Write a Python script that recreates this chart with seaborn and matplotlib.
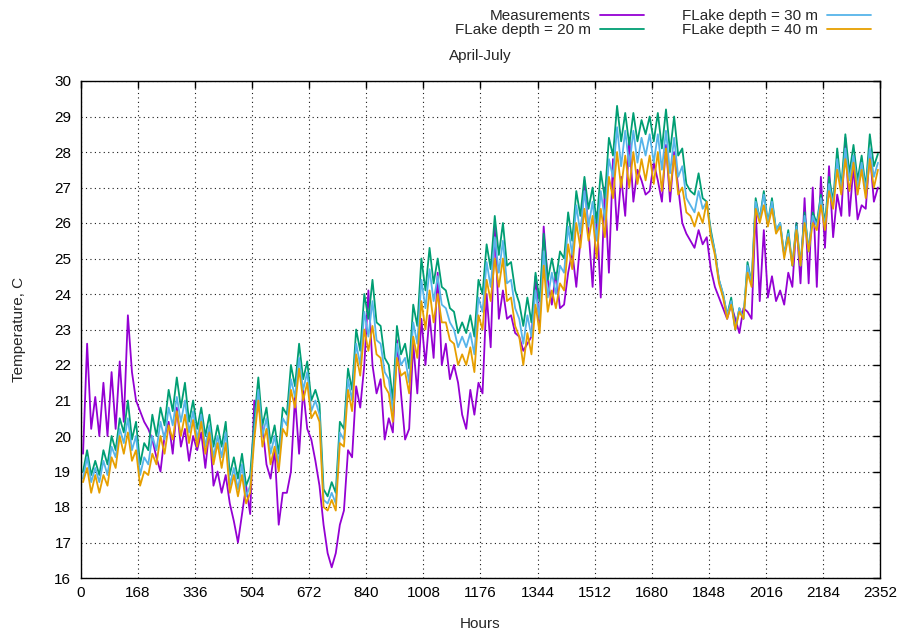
import numpy as np
import pandas as pd
import matplotlib
matplotlib.use("Agg")
import matplotlib.pyplot as plt
import seaborn as sns

# ---------------- data (12-hourly readings, first sample at hour 6) ----------------
labels = ["Measurements", "FLake depth = 20 m", "FLake depth = 30 m", "FLake depth = 40 m"]
colors = ["#9400D3", "#009E73", "#56B4E9", "#E69F00"]
x_ticks = [0, 168, 336, 504, 672, 840, 1008, 1176, 1344, 1512, 1680, 1848, 2016, 2184, 2352]
y_ticks = list(range(16, 31))
title = "April-July"

measurements = [
    19.5, 22.6, 20.2, 21.1, 20.0, 21.5, 20.0, 21.8, 20.2, 22.1, 20.4, 23.4, 21.8, 21.0,
    20.7, 20.4, 20.2, 19.9, 19.4, 19.0, 20.0, 20.4, 19.5, 20.8, 19.7, 20.2, 19.3, 20.0,
    19.6, 20.1, 19.1, 20.2, 18.6, 19.0, 18.4, 18.9, 18.1, 17.6, 17.0, 17.8, 18.6, 17.8,
    21.0, 20.85, 20.3, 19.2, 18.8, 19.6, 17.5, 18.4, 18.4, 19.0, 21.1, 19.5, 21.3, 20.2,
    19.9, 19.3, 18.6, 17.5, 16.7, 16.3, 16.7, 17.5, 17.9, 19.6, 19.4, 21.4, 20.8, 22.0,
    24.1, 22.0, 21.2, 21.6, 19.9, 20.5, 20.1, 22.7, 21.2, 19.9, 20.2, 22.6, 21.2, 23.3,
    22.0, 23.4, 22.2, 24.6, 22.0, 22.6, 21.6, 22.0, 21.5, 20.6, 20.2, 21.3, 20.6, 21.5,
    21.2, 24.0, 22.5, 25.9, 23.3, 24.1, 23.3, 23.4, 22.9, 22.8, 22.4, 22.6, 22.8, 24.5,
    23.1, 25.9, 24.4, 23.7, 24.6, 23.6, 23.7, 24.6, 25.2, 24.2, 25.5, 27.2, 25.8, 24.2,
    26.3, 23.9, 27.0, 24.6, 27.8, 25.8, 27.3, 26.2, 28.4, 26.6, 27.5, 27.2, 26.8, 26.9,
    27.7, 27.2, 26.6, 28.2, 26.6, 28.0, 27.0, 26.0, 25.7, 25.5, 25.3, 25.8, 25.4, 25.6,
    24.7, 24.2, 23.9, 23.6, 23.3, 23.7, 23.3, 22.9, 23.6, 23.5, 23.3, 26.4, 23.8, 25.8,
    23.9, 24.5, 23.8, 24.1, 23.7, 24.6, 24.2, 26.0, 24.3, 26.7, 24.3, 27.0, 24.2, 27.3,
    25.3, 27.6, 25.6, 26.8, 26.2, 28.4, 26.2, 27.6, 26.1, 26.5, 26.4, 28.0, 26.6, 27.0,
]

flake_20 = [
    19.0, 19.6, 18.9, 19.3, 18.9, 19.6, 19.2, 20.0, 19.6, 20.5, 20.1, 21.0, 19.9, 20.4,
    19.2, 19.8, 19.6, 20.6, 20.0, 20.8, 20.3, 21.3, 20.7, 21.65, 20.8, 21.5, 20.4, 21.0,
    20.2, 20.8, 20.0, 20.6, 19.7, 20.3, 19.7, 20.4, 18.9, 19.4, 18.8, 19.5, 18.6, 18.9,
    20.4, 21.65, 20.3, 20.8, 19.8, 20.3, 19.5, 20.8, 20.6, 22.0, 21.4, 22.6, 21.6, 22.1,
    21.0, 21.3, 20.9, 18.5, 18.3, 18.7, 18.4, 20.4, 20.2, 21.9, 21.3, 23.0, 22.4, 24.0,
    23.3, 24.4, 23.2, 23.1, 22.2, 22.0, 21.0, 23.1, 22.3, 22.6, 21.9, 23.7, 23.1, 25.0,
    24.1, 25.3, 24.3, 25.0, 24.2, 24.1, 23.6, 23.5, 22.9, 23.2, 22.9, 23.4, 22.8, 24.4,
    24.0, 25.4, 24.7, 26.2, 25.1, 26.0, 24.8, 24.9, 24.1, 23.75, 23.1, 23.9, 23.2, 24.6,
    23.8, 25.7, 24.4, 25.0, 24.4, 25.2, 25.0, 26.3, 25.5, 26.9, 26.2, 27.3, 26.4, 27.0,
    26.0, 27.45, 26.7, 28.4, 27.9, 29.3, 28.3, 29.1, 28.2, 29.1, 28.3, 28.9, 28.5, 29.0,
    28.3, 29.1, 28.1, 29.2, 28.0, 29.0, 27.9, 28.1, 27.1, 26.9, 26.8, 27.4, 26.7, 26.6,
    25.8, 25.2, 24.4, 24.0, 23.4, 23.9, 23.0, 23.6, 23.3, 24.9, 24.3, 26.7, 26.1, 26.9,
    26.0, 26.7, 25.8, 26.0, 25.1, 25.8, 24.8, 26.0, 24.8, 26.3, 25.2, 26.3, 26.0, 26.8,
    26.0, 27.3, 26.6, 28.1, 27.0, 28.5, 27.4, 28.2, 27.2, 27.9, 27.0, 28.5, 27.6, 27.95,
]

flake_30 = [
    18.8, 19.4, 18.7, 19.1, 18.7, 19.3, 18.9, 19.7, 19.4, 20.2, 19.8, 20.5, 19.6, 20.0,
    18.9, 19.4, 19.2, 20.0, 19.6, 20.4, 19.9, 20.8, 20.3, 21.1, 20.4, 21.0, 20.1, 20.7,
    19.9, 20.6, 19.7, 20.3, 19.4, 20.0, 19.4, 20.1, 18.6, 19.1, 18.5, 19.2, 18.3, 18.6,
    20.1, 21.3, 20.0, 20.5, 19.5, 20.0, 19.2, 20.5, 20.3, 21.6, 21.1, 22.2, 21.3, 21.8,
    20.7, 21.0, 20.6, 18.2, 18.1, 18.4, 18.1, 20.1, 19.9, 21.6, 21.0, 22.6, 22.0, 23.5,
    22.8, 23.8, 22.7, 22.6, 21.8, 21.6, 20.7, 22.6, 22.0, 22.2, 21.5, 23.2, 22.6, 24.4,
    23.6, 24.7, 23.8, 24.5, 23.7, 23.6, 23.2, 23.0, 22.5, 22.8, 22.5, 22.9, 22.3, 23.9,
    23.5, 24.9, 24.2, 25.6, 24.6, 25.5, 24.3, 24.4, 23.6, 23.3, 22.6, 23.4, 22.8, 24.1,
    23.3, 25.2, 23.9, 24.6, 24.0, 24.8, 24.6, 25.9, 25.1, 26.5, 25.7, 26.9, 25.9, 26.6,
    25.5, 26.9, 26.1, 27.8, 27.3, 28.7, 27.6, 28.6, 27.6, 28.6, 27.7, 28.4, 27.9, 28.5,
    27.7, 28.5, 27.5, 28.6, 27.4, 28.4, 27.3, 27.6, 26.7, 26.5, 26.3, 26.9, 26.4, 26.6,
    25.7, 25.2, 24.4, 24.0, 23.4, 23.8, 23.0, 23.6, 23.3, 24.8, 24.3, 26.6, 26.1, 26.8,
    26.0, 26.6, 25.8, 26.0, 25.1, 25.7, 24.8, 25.9, 24.8, 26.2, 25.2, 26.2, 25.9, 26.7,
    25.9, 27.1, 26.5, 27.8, 26.9, 28.1, 27.2, 27.9, 27.0, 27.7, 26.9, 28.1, 27.3, 27.7,
]

flake_40 = [
    18.7, 19.1, 18.4, 18.9, 18.4, 18.9, 18.6, 19.4, 19.1, 20.0, 19.5, 20.1, 19.3, 19.6,
    18.6, 19.0, 18.9, 19.5, 19.2, 20.0, 19.5, 20.3, 19.9, 20.7, 20.0, 20.6, 19.8, 20.45,
    19.7, 20.4, 19.5, 20.1, 19.2, 19.8, 19.1, 19.8, 18.4, 18.9, 18.3, 18.9, 18.1, 18.4,
    19.9, 21.0, 19.7, 20.2, 19.2, 19.7, 19.0, 20.2, 20.0, 21.3, 20.8, 21.9, 21.0, 21.5,
    20.5, 20.7, 20.4, 18.0, 17.9, 18.2, 17.9, 19.8, 19.7, 21.3, 20.7, 22.3, 21.7, 23.0,
    22.4, 23.1, 22.3, 22.2, 21.4, 21.2, 20.4, 22.2, 21.7, 21.8, 21.2, 22.8, 22.2, 23.8,
    23.0, 24.1, 23.2, 24.0, 23.2, 23.2, 22.7, 22.6, 22.0, 22.3, 22.0, 22.5, 21.8, 23.4,
    23.0, 24.4, 23.8, 25.0, 24.2, 25.0, 23.8, 23.9, 23.1, 22.8, 22.0, 22.9, 22.3, 23.7,
    22.9, 24.8, 23.5, 24.1, 23.6, 24.3, 24.1, 25.4, 24.7, 26.0, 25.3, 26.4, 25.5, 26.2,
    25.0, 26.4, 25.6, 27.3, 26.7, 28.0, 27.0, 27.9, 27.0, 28.0, 27.1, 27.8, 27.2, 27.9,
    27.1, 28.0, 26.9, 28.1, 26.9, 27.9, 26.8, 27.0, 26.3, 26.2, 25.9, 26.3, 26.0, 26.6,
    25.6, 25.1, 24.3, 23.9, 23.3, 23.7, 23.0, 23.5, 23.3, 24.6, 24.2, 26.4, 26.0, 26.5,
    25.9, 26.4, 25.7, 25.9, 25.0, 25.6, 24.8, 25.8, 24.8, 26.0, 25.2, 26.0, 25.8, 26.5,
    25.8, 26.9, 26.4, 27.5, 26.8, 27.8, 26.9, 27.7, 26.8, 27.5, 26.7, 27.8, 27.0, 27.5,
]

series = [measurements, flake_20, flake_30, flake_40]

# ---------------- long-form table ----------------
frames = []
for lab, vals in zip(labels, series):
    hrs = 6 + 12 * np.arange(len(vals))
    frames.append(pd.DataFrame({"Hours": hrs, "Temperature": vals, "series": lab}))
df = pd.concat(frames, ignore_index=True)

# ---------------- style ----------------
sns.set_style("white")
plt.rcParams["font.family"] = ["Liberation Sans", "DejaVu Sans"]
plt.rcParams["font.size"] = 11

fig = plt.figure(figsize=(9.04, 6.30), dpi=100)
ax = fig.add_axes([81 / 904, 1 - 578 / 630, (880 - 81) / 904, (578 - 81) / 630])

sns.lineplot(data=df, x="Hours", y="Temperature", hue="series", hue_order=labels,
             palette=dict(zip(labels, colors)), estimator=None, sort=False,
             linewidth=1.3, ax=ax, legend=True)

handles, labs = ax.get_legend_handles_labels()
ax.get_legend().remove()
fig.legend(handles, labs, ncol=2, markerfirst=False, frameon=False,
           loc="upper right", bbox_to_anchor=(874 / 904, 1 - 6 / 630),
           fontsize=11, handlelength=2.88, handletextpad=0.59,
           columnspacing=2.49, labelspacing=0.0, borderaxespad=0, borderpad=0.2)

ax.set_xlim(0, 2352)
ax.set_ylim(16, 30)
ax.set_xticks(x_ticks)
ax.set_yticks(y_ticks)
ax.tick_params(direction="in", length=5, width=1, top=True, right=True,
               labelsize=11, colors="black", pad=7)
ax.tick_params(axis="x", pad=6)
for s in ax.spines.values():
    s.set_visible(True)
    s.set_color("black")
    s.set_linewidth(1.0)
ax.grid(True, linestyle=(0, (1, 3)), color="black", linewidth=0.8, alpha=0.9)
ax.set_axisbelow(True)

ax.set_xlabel("Hours", fontsize=11, labelpad=12)
ax.set_ylabel("Temperature, C", fontsize=11, labelpad=20)
fig.text(480 / 904, 1 - 56 / 630, title, ha="center", va="center", fontsize=11)

fig.savefig("out.png", dpi=100)
